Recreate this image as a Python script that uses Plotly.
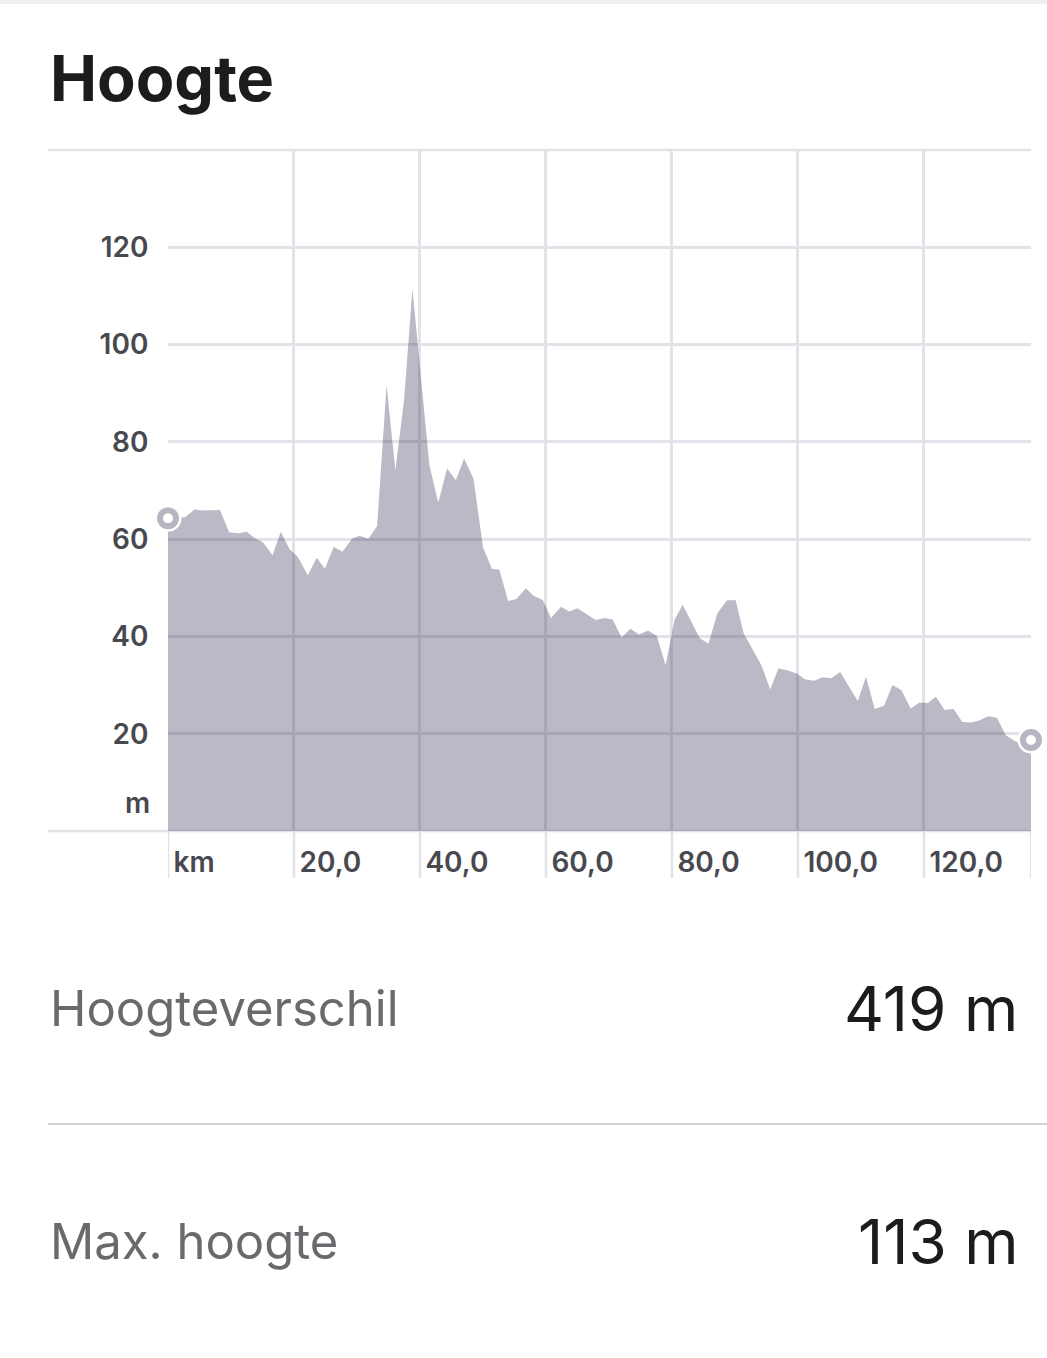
import plotly.graph_objects as go

# ---- data ----
km = [0, 2.7, 4.2, 5.6, 8.25, 9.7, 11.2, 12.5, 13.8, 15.1, 16.6, 17.9, 19.3, 20.6, 22.2,
      23.6, 24.9, 26.3, 27.7, 29.2, 30.4, 31.8, 33.2, 34.7, 36.1, 37.5, 38.8, 40.1, 41.5, 42.9,
      44.3, 45.7, 47.0, 48.5, 50.0, 51.4, 52.6, 54.0, 55.3, 56.8, 58.1, 59.5, 60.8, 62.4, 63.7,
      65.0, 66.5, 67.9, 69.3, 70.6, 72.0, 73.4, 74.8, 76.2, 77.6, 79.0, 80.4, 81.7, 83.0, 84.4,
      85.8, 87.2, 88.7, 90.1, 91.4, 92.8, 94.2, 95.6, 96.9, 98.4, 99.8, 101.1, 102.6, 103.9, 105.3,
      106.7, 108.1, 109.5, 110.8, 112.2, 113.7, 115.0, 116.4, 117.9, 119.3, 120.6, 121.9, 123.3, 124.7,
      126.1, 127.5, 128.8, 130.2, 131.6, 133.0, 134.4, 135.8, 137.0]
elev = [64.3, 64.5, 66.1, 65.9, 66.0, 61.4, 61.2, 61.5, 60.2, 59.3, 56.7, 61.5, 57.9, 56.4, 52.6,
        56.2, 53.9, 58.4, 57.4, 60.1, 60.7, 60.1, 62.7, 91.7, 74.1, 88.9, 111.5, 93.4, 75.2, 67.5,
        74.5, 72.1, 76.6, 72.4, 58.4, 53.9, 53.7, 47.3, 47.7, 49.9, 48.3, 47.5, 43.8, 46.1, 45.1,
        45.8, 44.6, 43.4, 43.8, 43.5, 39.8, 41.6, 40.4, 41.2, 40.1, 34.1, 43.4, 46.5, 43.2, 39.7,
        38.5, 44.7, 47.4, 47.5, 40.6, 37.4, 34.1, 29.1, 33.4, 33.0, 32.4, 31.2, 30.9, 31.6, 31.4,
        32.7, 29.8, 26.7, 31.7, 25.1, 25.8, 30.0, 29.0, 25.2, 26.4, 26.3, 27.6, 24.9, 25.1, 22.4,
        22.3, 22.7, 23.6, 23.3, 19.7, 18.5, 18.0, 18.7]

x_tickvals = [0, 20, 40, 60, 80, 100, 120, 137]
x_ticktext = ["km", "20,0", "40,0", "60,0", "80,0", "100,0", "120,0", ""]
y_tickvals = [20, 40, 60, 80, 100, 120]
y_ticktext = ["20", "40", "60", "80", "100", "120"]
y_unit = "m"

title_text = "Hoogte"
stat_labels = ["Hoogteverschil", "Max. hoogte"]
stat_values = ["419 m", "113 m"]

# ---- layout geometry (pixels) ----
W, H = 1047, 1358
L, R, T, B = 168, 1031, 150, 831
ML, MR, MT, MB = L, W - R, T, H - B
PW, PH = R - L, B - T


def px(xp):
    return (xp - L) / PW


def py(yp):
    return (B - yp) / PH


GRID = "#E2E2E8"
FONT = "Inter"

fig = go.Figure()
fig.add_trace(go.Scatter(
    x=km, y=elev, mode="lines", fill="tozeroy",
    fillcolor="rgba(40,40,80,0.32)",
    line=dict(width=0, color="rgba(40,40,80,0.0)"),
    hoverinfo="skip", showlegend=False,
))
# endpoint markers: white halo + grey ring
fig.add_trace(go.Scatter(
    x=[km[0], km[-1]], y=[elev[0], elev[-1]], mode="markers",
    marker=dict(size=27, color="white", line=dict(width=0)),
    cliponaxis=False, hoverinfo="skip", showlegend=False,
))
fig.add_trace(go.Scatter(
    x=[km[0], km[-1]], y=[elev[0], elev[-1]], mode="markers",
    marker=dict(size=16, color="white", line=dict(width=6, color="#B6B6C2")),
    cliponaxis=False, hoverinfo="skip", showlegend=False,
))

shapes = []
# vertical gridline extensions below the axis
for v in x_tickvals:
    shapes.append(dict(type="line", xref="x", yref="paper", x0=v, x1=v,
                       y0=py(878), y1=0, line=dict(color=GRID, width=2.5), layer="below"))
# top and bottom frame lines extending left
for yp in (T, B):
    shapes.append(dict(type="line", xref="paper", yref="paper", x0=px(48), x1=1,
                       y0=py(yp), y1=py(yp), line=dict(color=GRID, width=2.5), layer="below"))
# page top border
shapes.append(dict(type="line", xref="paper", yref="paper", x0=px(0), x1=px(W),
                   y0=py(2), y1=py(2), line=dict(color="#EFEFF3", width=4)))
# separator
shapes.append(dict(type="line", xref="paper", yref="paper", x0=px(48), x1=px(W),
                   y0=py(1124), y1=py(1124), line=dict(color="#D2D2D8", width=2)))

annotations = [
    dict(text=title_text, xref="paper", yref="paper", x=px(48), y=py(78),
         xanchor="left", yanchor="middle", showarrow=False,
         font=dict(family=FONT, size=63, color="#1C1C1F", weight=700)),
    dict(text=y_unit, xref="paper", yref="y", x=px(152), y=0, yshift=28,
         xanchor="right", yanchor="middle", showarrow=False,
         font=dict(family=FONT, size=28, color="#48484F", weight=600)),
]
for lab, val, yc in zip(stat_labels, stat_values, (1008, 1241)):
    annotations.append(dict(text=lab, xref="paper", yref="paper", x=px(48), y=py(yc),
                            xanchor="left", yanchor="middle", showarrow=False,
                            font=dict(family=FONT, size=49, color="#6A6A6E", weight=400)))
    annotations.append(dict(text=val, xref="paper", yref="paper", x=px(1020), y=py(yc),
                            xanchor="right", yanchor="middle", showarrow=False,
                            font=dict(family=FONT, size=62, color="#1C1C1F", weight=400)))

fig.update_layout(
    width=W, height=H,
    margin=dict(l=ML, r=MR, t=MT, b=MB, pad=0),
    paper_bgcolor="white", plot_bgcolor="white",
    shapes=shapes, annotations=annotations,
    xaxis=dict(range=[0, 137], tickvals=x_tickvals, ticktext=x_ticktext,
               showgrid=True, gridcolor=GRID, gridwidth=2.5, zeroline=False,
               showline=False, ticks="outside", ticklen=18, tickcolor="rgba(0,0,0,0)",
               ticklabelposition="outside right", ticklabelshift=5, ticklabelstandoff=6,
               tickfont=dict(family=FONT, size=28, color="#48484F", weight=600),
               fixedrange=True),
    yaxis=dict(range=[0, 140], tickvals=y_tickvals, ticktext=y_ticktext,
               showgrid=True, gridcolor=GRID, gridwidth=2.5, zeroline=False,
               showline=False, ticks="outside", ticklen=13, tickcolor="rgba(0,0,0,0)",
               tickfont=dict(family=FONT, size=28, color="#48484F", weight=600),
               fixedrange=True),
)

fig.write_html("out.html", config={"displayModeBar": False},
               post_script="document.body.style.margin='0';document.body.style.overflow='hidden';")
